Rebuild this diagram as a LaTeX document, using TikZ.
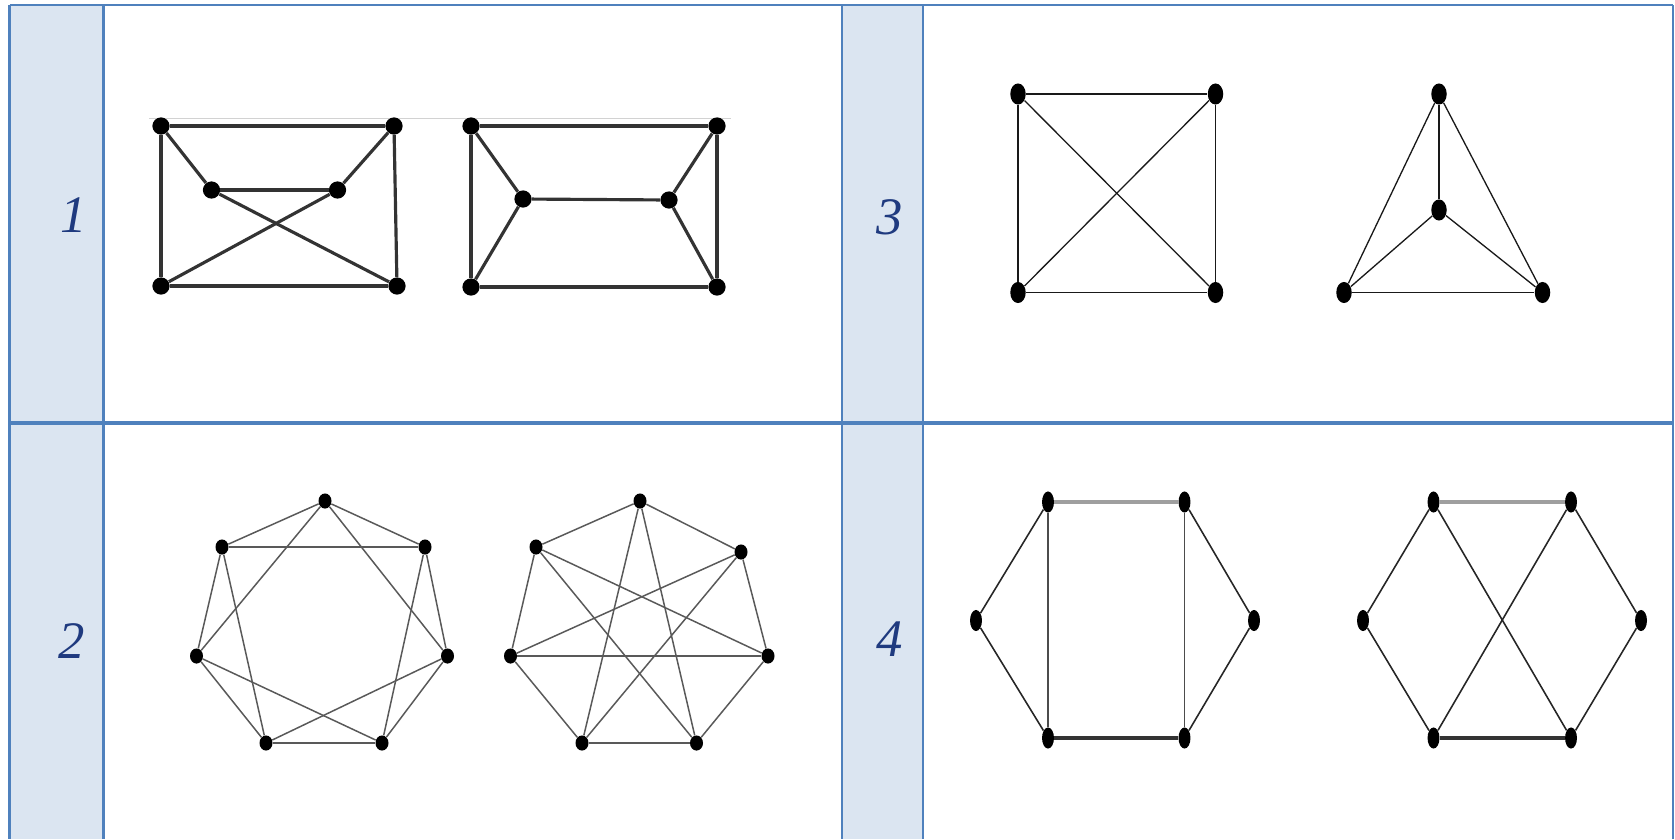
\documentclass[tikz,border=0pt]{standalone}
\usepackage{fontspec}
\setmainfont{Liberation Serif}
\usetikzlibrary{shapes.geometric}
\definecolor{tblblue}{HTML}{4F81BD}
\definecolor{tblfill}{HTML}{DBE5F1}
\definecolor{numblue}{HTML}{1F3A7F}

\begin{document}
\begin{tikzpicture}[x=0.02cm,y=-0.02cm,
  frame/.style={draw=tblblue,line width=1.5pt},
  midrule/.style={draw=tblblue,line width=2.8pt},
  num/.style={font=\fontsize{30}{32}\selectfont\itshape,text=numblue},
  dotA/.style={circle,fill=black,inner sep=0pt,minimum size=9.8pt},
  dotB/.style={ellipse,fill=black,inner sep=0pt,minimum width=7.4pt,minimum height=8.6pt},
  dotC/.style={ellipse,fill=black,inner sep=0pt,minimum width=8.8pt,minimum height=12pt},
  dotD/.style={ellipse,fill=black,inner sep=0pt,minimum width=6.8pt,minimum height=12pt},
  edgeA/.style={black!80,line width=1.8pt},
  edgeB/.style={black!65,line width=0.85pt},
  edgeC/.style={black!90,line width=0.75pt},
  edgeD/.style={black!85,line width=0.9pt},
  topD/.style={gray!75,line width=2.6pt},
  botD/.style={black!80,line width=1.9pt}]
\useasboundingbox (0,0) rectangle (1675,839);
% the table
\fill[tblfill] (9.5,5) rectangle (103.5,839);
\fill[tblfill] (842,5) rectangle (923,839);
\foreach \x in {9.5,103.5,842,923,1673} \draw[frame] (\x,5) -- (\x,839);
\draw[frame] (9.5,5) -- (1673,5);
\draw[midrule] (9.5,423) -- (1673,423);
\node[num] (n1) at (74,215) {1};
\node[num] (n2) at (72,641) {2};
\node[num] (n3) at (890,217) {3};
\node[num] (n4) at (890,639) {4};
% (1) two drawings of the prism
\draw[gray!35,line width=0.5pt] (149,118) -- (731,118);
\foreach \n/\x/\y in {1/161/126,2/394/126,3/211.5/190,4/337.5/190,5/161/286,6/397/286}
  \node[dotA] (a\n) at (\x,\y) {};
\foreach \i/\j in {1/2,1/5,2/6,5/6,1/3,2/4,3/4,3/6,4/5} \draw[edgeA] (a\i)--(a\j);
\foreach \n/\x/\y in {1/471/126,2/717/126,3/523/199,4/669/200,5/471/287,6/717/287}
  \node[dotA] (b\n) at (\x,\y) {};
\foreach \i/\j in {1/2,1/5,2/6,5/6,1/3,5/3,3/4,2/4,6/4} \draw[edgeA] (b\i)--(b\j);
% (2) two 4-regular graphs on seven vertices
\foreach \n/\x/\y in {1/325/501,2/222/547,3/425/547,4/196.5/656,5/447.5/656,6/266/743,7/382/743}
  \node[dotB] (c\n) at (\x,\y) {};
\foreach \i/\j in {1/2,1/3,2/3,1/4,1/5,2/4,2/6,3/5,3/7,4/6,4/7,5/7,5/6,6/7} \draw[edgeB] (c\i)--(c\j);
\foreach \n/\x/\y in {1/640/501,2/536/547,3/741/552,4/510.5/656,5/768/656,6/582/743,7/696.5/743}
  \node[dotB] (d\n) at (\x,\y) {};
\foreach \i/\j in {1/2,1/3,1/6,1/7,2/4,2/5,2/7,3/4,3/5,3/6,4/5,4/6,5/7,6/7} \draw[edgeB] (d\i)--(d\j);
% (3) K4, crossing and plane
\foreach \n/\x/\y in {1/1018/94,2/1215.5/94,3/1018/292.5,4/1215.5/292.5}
  \node[dotC] (e\n) at (\x,\y) {};
\foreach \n/\x/\y in {1/1439/94,2/1439/210,3/1344/292.5,4/1542.5/292.5}
  \node[dotC] (f\n) at (\x,\y) {};
\foreach \i/\j in {1/2,1/3,1/4,2/3,2/4,3/4} {\draw[edgeC] (e\i)--(e\j); \draw[edgeC] (f\i)--(f\j);}
% (4) two hexagons with two chords
\foreach \n/\x/\y in {1/1048/502,2/1184.5/502,3/976/620.5,4/1254/620.5,5/1048/738,6/1184.5/738}
  \node[dotD] (g\n) at (\x,\y) {};
\foreach \n/\x/\y in {1/1433.5/502,2/1571/502,3/1363/620.5,4/1641/620.5,5/1433.5/738,6/1571/738}
  \node[dotD] (h\n) at (\x,\y) {};
\draw[topD] (g1)--(g2); \draw[botD] (g5)--(g6);
\draw[topD] (h1)--(h2); \draw[botD] (h5)--(h6);
\foreach \i/\j in {1/3,3/5,2/4,4/6} {\draw[edgeD] (g\i)--(g\j); \draw[edgeD] (h\i)--(h\j);}
\foreach \i/\j in {1/5,2/6} \draw[black!70,line width=0.6pt] (g\i)--(g\j);
\foreach \i/\j in {1/6,2/5} \draw[edgeD] (h\i)--(h\j);
\end{tikzpicture}
\end{document}
